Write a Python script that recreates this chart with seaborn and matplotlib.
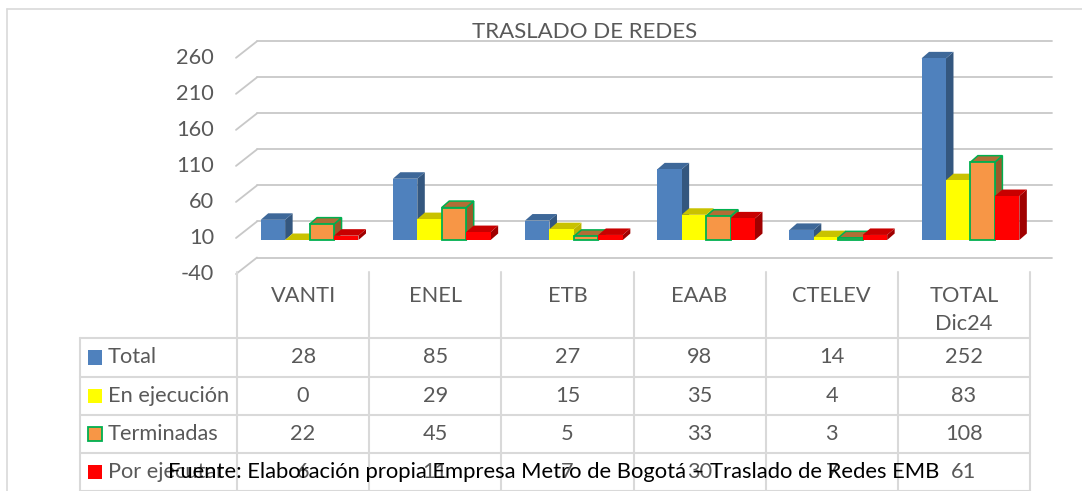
import numpy as np
import pandas as pd
import matplotlib
matplotlib.use("Agg")
import matplotlib.pyplot as plt
import seaborn as sns
from matplotlib.patches import Polygon, Rectangle
from matplotlib.lines import Line2D
from matplotlib.transforms import IdentityTransform

# ---------------- data ----------------
categories = ["VANTI", "ENEL", "ETB", "EAAB", "CTELEV", "TOTAL\nDic24"]
series = ["Total", "En ejecución", "Terminadas", "Por ejecutar"]
total = [28, 85, 27, 98, 14, 252]
en_ejecucion = [0, 29, 15, 35, 4, 83]
terminadas = [22, 45, 5, 33, 3, 108]
por_ejecutar = [6, 11, 7, 30, 7, 61]
y_ticks = [-40, 10, 60, 110, 160, 210, 260]
title = "TRASLADO DE REDES"
source = "Fuente: Elaboración propia Empresa Metro de Bogotá – Traslado de Redes EMB"

# ---------------- style ----------------
front_colors = ["#4F81BD", "#FFFF00", "#F79646", "#FF0000"]
top_colors = ["#3E6899", "#C9C200", "#B06E36", "#C80000"]
side_colors = ["#34577F", "#BDB500", "#9A5A2A", "#A00000"]
edge_green = "#00B050"
text_gray = "#595959"
grid_col = "#C8C8C8"
table_col = "#D9D9D9"

sns.set_theme(style="white")
plt.rcParams["font.family"] = ["Lato", "DejaVu Sans"]

W, H = 1082, 491
fig = plt.figure(figsize=(W / 100, H / 100), dpi=100)
fig.patch.set_facecolor("white")
renderer = fig.canvas.get_renderer()


def Y(img_y):
    return H - img_y


ID = IdentityTransform()


def fit(t, target):
    w = t.get_window_extent(renderer).width
    t.set_fontsize(t.get_fontsize() * target / w)
    return t.get_fontsize()


# common font size: fit the widest row label to its measured width
probe = fig.text(0, 0, series[1], transform=ID, fontsize=14)
fs = fit(probe, 122)
probe.remove()

# bar axes: value 0 at image y 240, 0.7208 px per unit; x columns 132.17 px wide
ppu = 0.7208
ymin, ymax = -44, 276
zero_disp = Y(240)
ax_h = (ymax - ymin) * ppu
ax_bottom = zero_disp + ymin * ppu
col_w = 132.17
ax_left = 243.5
ax = fig.add_axes([ax_left / W, ax_bottom / H, 6 * col_w / W, ax_h / H])

values = [total, en_ejecucion, terminadas, por_ejecutar]
rows = [(c, s, v) for s, vals in zip(series, values) for c, v in zip(categories, vals)]
df = pd.DataFrame(rows, columns=["categoria", "serie", "valor"])

sns.barplot(data=df, x="categoria", y="valor", hue="serie", order=categories,
            hue_order=series, palette=front_colors, width=0.74, saturation=1,
            errorbar=None, legend=False, ax=ax, linewidth=0)
ax.set_xlim(-0.5, 5.5)
ax.set_ylim(ymin, ymax)
ax.axis("off")
ax.patch.set_alpha(0)

# 3D faces
DX, DY = 7.5, 6.5
for j, cont in enumerate(ax.containers):
    for p in cont.patches:
        x0, y0 = p.get_x(), p.get_y()
        w, h = p.get_width(), p.get_height()
        X0, Y0 = ax.transData.transform((x0, y0))
        X1, Y1 = ax.transData.transform((x0 + w, y0 + h))
        ec = edge_green if j == 2 else "none"
        lw = 1.1 if j == 2 else 0
        top = Polygon([(X0, Y1), (X1, Y1), (X1 + DX, Y1 + DY), (X0 + DX, Y1 + DY)],
                      closed=True, transform=ID, facecolor=top_colors[j],
                      edgecolor=ec, linewidth=lw, zorder=5 + 3 * j + 1, clip_on=False)
        side = Polygon([(X1, Y0), (X1, Y1), (X1 + DX, Y1 + DY), (X1 + DX, Y0 + DY)],
                       closed=True, transform=ID, facecolor=side_colors[j],
                       edgecolor=ec, linewidth=lw, zorder=5 + 3 * j + 1, clip_on=False)
        ax.add_patch(side)
        ax.add_patch(top)
        p.set_zorder(5 + 3 * j + 2)
        p.set_clip_on(False)
        if j == 2:
            p.set_edgecolor(edge_green)
            p.set_linewidth(1.3)

# ---------------- walls / gridlines ----------------
back_x0, back_x1 = 257, 1052
front_x = 236
back_off = 11.3   # back wall above bar plane (px)
front_off = -5.2  # front edge below bar plane (px)
for v in y_ticks:
    yb = ax.transData.transform((0, v))[1]
    fig.add_artist(Line2D([back_x0, back_x1], [yb + back_off, yb + back_off],
                          transform=ID, color=grid_col, lw=1.3, zorder=-1))
    fig.add_artist(Line2D([front_x, back_x0], [yb + front_off, yb + back_off],
                          transform=ID, color=grid_col, lw=1.3, zorder=-1))
    fig.text(214, yb + front_off, str(v), transform=ID, ha="right", va="center",
             color=text_gray, fontsize=fs)

# outer border
fig.add_artist(Line2D([7, 7], [Y(9), 0], transform=ID, color=table_col, lw=1.2, zorder=-1))
fig.add_artist(Line2D([7, W], [Y(9), Y(9)], transform=ID, color=table_col, lw=1.2, zorder=-1))

# title
tt = fig.text(584.5, Y(31.5), title, transform=ID, ha="center", va="center",
              color=text_gray, fontsize=15)
fit(tt, 225)

# ---------------- data table ----------------
col_centers = [ax.transData.transform((i, 0))[0] - 6.5 for i in range(len(categories))]
col_edges = [col_centers[0] - col_w / 2] + [c + col_w / 2 for c in col_centers]
row_lines = [338, 376.7, 415, 452.7, 490.5]
row_centers = [(a + b) / 2 for a, b in zip(row_lines[:-1], row_lines[1:])]
tbl_left = 80

for yl in row_lines:
    fig.add_artist(Line2D([tbl_left, col_edges[-1]], [Y(yl), Y(yl)], transform=ID,
                          color=table_col, lw=1.5, zorder=1))
fig.add_artist(Line2D([tbl_left, tbl_left], [Y(338), Y(491)], transform=ID,
                      color=table_col, lw=1.5, zorder=1))
for xe in col_edges:
    fig.add_artist(Line2D([xe, xe], [Y(272), Y(491)], transform=ID,
                          color=table_col, lw=1.5, zorder=1))

# header category labels
for xc, cat in zip(col_centers, categories):
    for k, line in enumerate(cat.split("\n")):
        fig.text(xc, Y(296 + 28.5 * k), line, transform=ID, ha="center", va="center",
                 color=text_gray, fontsize=fs)

# row labels with legend keys and values
for r, (s, vals) in enumerate(zip(series, values)):
    yc = Y(row_centers[r])
    ec = edge_green if r == 2 else front_colors[r]
    fig.add_artist(Rectangle((87.5, yc - 7.5), 14.5, 14.5, transform=ID,
                             facecolor=front_colors[r], edgecolor=ec,
                             linewidth=1.3 if r == 2 else 0, zorder=2))
    fig.text(107.5, yc, s, transform=ID, ha="left", va="center",
             color=text_gray, fontsize=fs, zorder=3)
    for xc, v in zip(col_centers, vals):
        fig.text(xc, yc, str(v), transform=ID, ha="center", va="center",
                 color=text_gray, fontsize=fs, zorder=3)

# source note (overlapping last row as in the original)
ft = fig.text(168, Y(472), source, transform=ID, ha="left", va="center",
              color="black", fontsize=13, zorder=10)
fit(ft, 769)

fig.savefig("out.png", dpi=100)
